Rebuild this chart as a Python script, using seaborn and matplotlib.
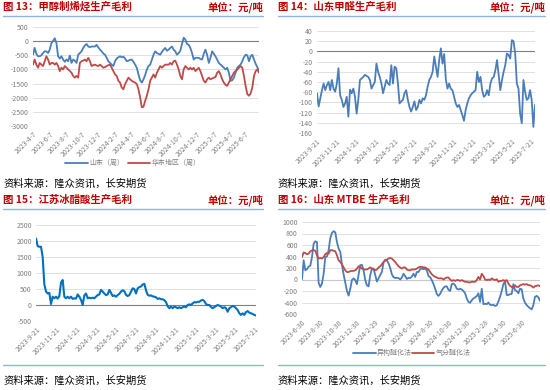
import numpy as np
import pandas as pd
import seaborn as sns
from matplotlib import pyplot as plt
from matplotlib.lines import Line2D

# ---- 图13 甲醇制烯烃生产毛利（周，元/吨）
mto_labels = ['2023-4-7', '2023-6-7', '2023-8-7', '2023-10-7', '2023-12-7', '2024-2-7', '2024-4-7',
              '2024-6-7', '2024-8-7', '2024-10-7', '2024-12-7', '2025-2-7', '2025-4-7', '2025-6-7']
mto_shandong = [-480, -240, -450, -535, -535, -500, -420, -360, -360, -420, -300, -70, 10, 100, -70,
                -535, -615, -535, -650, -730, -650, -710, -510, -770, -650, -690, -770, -480, -420, -360,
                -240, -150, -100, -190, -210, -190, -190, -190, -130, -220, -300, -360, -440, -480, -590,
                -710, -770, -830, -880, -710, -615, -570, -535, -570, -550, -615, -710, -690, -660, -650,
                -730, -830, -940, -1175, -1385, -1465, -1350, -1200, -1000, -880, -830, -650, -480, -360, -420,
                -450, -480, -380, -300, -240, -340, -300, -240, -190, -300, -360, -480, -420, -340, -100,
                120, 60, -100, -130, -240, -420, -650, -590, -590, -590, -630, -650, -450, -300, -480,
                -770, -590, -360, -450, -535, -650, -770, -830, -880, -940, -1000, -940, -1115, -1400, -1385,
                -1290, -1115, -940, -880, -830, -710, -570, -480, -500, -710, -535, -480, -650, -800, -920,
                -1060]
mto_huadong = [-830, -650, -830, -940, -770, -830, -880, -710, -535, -650, -830, -770, -770, -830, -770,
               -880, -1060, -940, -1000, -880, -940, -1000, -1060, -1115, -1230, -1290, -1230, -1290, -770, -710,
               -690, -650, -710, -590, -710, -880, -850, -830, -860, -880, -830, -880, -940, -920, -880,
               -850, -830, -940, -1060, -1175, -1230, -1400, -1465, -1640, -1700, -1520, -1400, -1290, -1350, -1400,
               -1440, -1465, -1520, -1700, -1990, -2340, -2320, -2110, -1930, -1700, -1400, -1290, -1175, -1290, -1115,
               -1000, -880, -940, -880, -830, -830, -830, -770, -830, -710, -690, -830, -1000, -1230, -1350,
               -1000, -880, -940, -1000, -940, -1000, -940, -1060, -1000, -940, -1060, -1230, -1400, -1465, -1350,
               -1290, -1350, -1320, -1290, -1270, -1115, -1060, -1175, -1350, -1465, -1545, -1580, -1465, -1350, -1230,
               -1115, -1060, -1000, -940, -880, -940, -1230, -1580, -1870, -1930, -1850, -1640, -1230, -1060, -1000,
               -1115]

# ---- 图14 山东甲醛生产毛利
hcho_labels = ['2023-9-21', '2023-11-21', '2024-1-21', '2024-3-21', '2024-5-21', '2024-7-21',
               '2024-9-21', '2024-11-21', '2025-1-21', '2025-3-21', '2025-5-21', '2025-7-21']
hcho_margin = [-82, -108, -92, -76, -63, -76, -66, -60, -76, -56, -73, -79, -63, -33, -86, -95, -109, -102,
               -89, -128, -75, -82, -73, -89, -122, -95, -56, -53, -50, -46, -48, -50, -56, -73, -66, -60,
               -24, -40, -50, -63, -82, -69, -56, -63, -66, -27, -63, -30, -33, -63, -102, -98, -95, -82,
               -76, -95, -109, -118, -109, -98, -115, -109, -95, -102, -92, -95, -86, -69, -56, -50, -40, -10,
               -30, -50, -17, 6, -24, -5, -55, -73, -63, -73, -76, -89, -102, -109, -105, -115, -125, -136,
               -115, -102, -92, -86, -82, -79, -76, -40, -60, -50, -76, -89, -86, -76, -86, -63, -53, -50,
               -37, -17, -46, -76, -56, -40, -27, -4, -7, -14, 22, 20, -4, -63, -73, -122, -141, -56,
               -79, -95, -92, -76, -95, -148, -105]

# ---- 图15 江苏冰醋酸生产毛利
acetic_labels = hcho_labels
acetic_margin = [2080, 1840, 1820, 1820, 1500, 650, 420, 360, 380, 30, 260, 210, 260, 200, 280, 700, 780,
                 260, 210, 260, 210, 260, 190, 210, 200, 330, 260, 160, 0, 300, 360, 210, 230, 210, 230,
                 210, 260, 310, 330, 470, 420, 360, 310, 330, 470, 380, 280, 300, 260, 310, 350, 420, 460,
                 430, 320, 280, 310, 420, 520, 500, 360, 520, 560, 580, 640, 660, 460, 320, 290, 300, 270,
                 260, 240, 190, 210, 180, 180, 150, 90, -40, -100, -50, -100, -50, -70, -100, -70, -100, -70,
                 -50, -70, 0, 20, 0, 50, 90, 80, 100, 100, 140, 160, 120, 30, 0, 0, -60, -100, -70, -30,
                 0, -20, -50, -100, -70, -100, -210, -100, -70, -30, -50, -100, -160, -260, -310, -260, -310,
                 -220, -190, -240, -260, -280, -310, -330]

# ---- 图16 山东MTBE生产毛利
mtbe_labels = ['2023-6-30', '2023-8-30', '2023-10-30', '2023-12-30', '2024-2-29', '2024-4-30', '2024-6-30',
               '2024-8-30', '2024-10-30', '2024-12-30', '2025-2-28', '2025-4-30', '2025-6-30']
mtbe_isomer = [0, 335, 160, 180, 225, 240, 390, 620, 665, 650, -60, -130, -70, 100, 390, 400, 510, 720,
               810, 840, 820, 650, 540, 480, 260, 90, -60, -200, -280, -160, -10, 20, -10, -80, 80, 250,
               255, 160, -10, -100, -120, 75, 190, 190, 75, -35, 20, 80, 130, 300, 345, 335, 280, 200,
               90, 40, 25, 30, 25, 0, 35, 100, 60, 10, 30, 25, 50, 100, 45, 130, 130, 180, 190, 180,
               190, 160, 60, 40, -10, -80, -160, -250, -285, -250, -190, -145, -120, -120, -180, -200, -80, -70,
               -100, -160, -175, -160, -175, -200, -240, -330, -390, -405, -360, -330, -310, -290, -240, -390,
               -160, -430, -420, -430, -400, -440, -445, -440, -460, -450, -380, -300, -200, -80, -30, -270,
               -270, -255, -250, -80, -185, -200, -240, -160, -170, -330, -405, -445, -475, -500, -520, -445,
               -300, -285, -310, -370]
mtbe_gas = [390, 470, 460, 440, 450, 490, 505, 510, 500, 420, 365, 375, 365, 390, 440, 460, 450, 510,
            510, 500, 490, 420, 335, 305, 265, 210, 160, 130, 130, 145, 150, 150, 160, 190, 230, 210,
            190, 175, 175, 175, 190, 210, 190, 175, 160, 175, 210, 230, 265, 305, 325, 345, 365, 375,
            365, 335, 305, 265, 230, 210, 190, 210, 210, 175, 160, 160, 175, 175, 175, 190, 210, 220,
            220, 210, 210, 190, 175, 130, 90, 65, 45, 35, 20, 20, 20, 0, 20, 35, 35, 0, -25, -10,
            -25, -10, -10, -25, -10, -25, -40, -40, -50, -50, -40, -40, -40, -10, 45, 0, 100, 60,
            0, -10, 0, -10, 20, 0, -10, 5, -40, -25, -25, -10, -25, -10, -70, -110, -130, -140,
            -100, -130, -130, -100, -90, -80, -90, -80, -100, -100, -115, -140, -115, -110, -100, -115]

RED_TITLE = '#C00000'
BLUE_RULE = '#8DB4E2'
W, H = 550, 390

sns.set_theme(style='white')
plt.rcParams['font.family'] = ['Noto Sans CJK SC', 'DejaVu Sans']
plt.rcParams['axes.unicode_minus'] = False


def fx(px):
    return px / W


def fy(py):
    return 1 - py / H


def panel_axes(x0, y0, x1, y1):
    return fig.add_axes([fx(x0), fy(y1), fx(x1) - fx(x0), fy(y0) - fy(y1)])


def style_axis(ax, yticks, xpos, xlabels, n, zero_color='#8C8C8C'):
    ax.set_ylim(yticks[0], yticks[-1])
    ax.set_yticks(yticks)
    ax.set_yticklabels([str(v) for v in yticks])
    ax.set_xlim(0, n - 1)
    ax.set_xticks(xpos)
    ax.set_xticklabels(xlabels, rotation=45, ha='right', rotation_mode='anchor')
    ax.tick_params(axis='both', labelsize=5, colors='#7F7F7F', length=0, pad=3)
    ax.grid(axis='y', color='#DCDCDC', linewidth=0.6)
    ax.set_axisbelow(True)
    ax.axhline(0, color=zero_color, linewidth=0.8, zorder=1)
    for s in ax.spines.values():
        s.set_visible(False)
    ax.set_xlabel('')
    ax.set_ylabel('')


def panel_header(x0, x1, y, title):
    fig.text(fx(x0), fy(y), title, color=RED_TITLE, fontsize=7.5, fontweight='bold', va='center', ha='left')
    fig.text(fx(x1), fy(y), '单位：元/吨', color=RED_TITLE, fontsize=7.5, fontweight='bold', va='center', ha='right')
    fig.add_artist(Line2D([fx(x0), fx(x1)], [fy(y + 9), fy(y + 9)], color=BLUE_RULE, linewidth=1.0))


def source_note(x0, y):
    fig.text(fx(x0), fy(y), '资料来源：隆众资讯，长安期货', color='#000000', fontsize=7.4, va='center', ha='left')


fig = plt.figure(figsize=(5.5, 3.9), dpi=100)

# 图13
ax1 = panel_axes(33, 27, 259, 126)
df1 = pd.DataFrame({'idx': np.arange(len(mto_shandong)), 'sd': mto_shandong, 'hd': mto_huadong})
sns.lineplot(data=df1, x='idx', y='sd', ax=ax1, color='#4A7EBB', linewidth=1.3, label='山东（周）')
sns.lineplot(data=df1, x='idx', y='hd', ax=ax1, color='#BE4B48', linewidth=1.3, label='华东地区（周）')
style_axis(ax1, list(range(-3000, 501, 500)), np.round(np.arange(len(mto_labels)) * 9.8),
           mto_labels, len(mto_shandong), zero_color='#7F7F7F')
ax1.legend(loc='center', bbox_to_anchor=(fx(133), fy(163)), bbox_transform=fig.transFigure, ncol=2,
           frameon=False, fontsize=5, handlelength=3.2, columnspacing=0.6, handletextpad=0.2,
           labelcolor='#7F7F7F')
panel_header(3, 263, 7, '图 13：甲醇制烯烃生产毛利')
source_note(3, 184)

# 图14
ax2 = panel_axes(317, 31, 535, 133)
df2 = pd.DataFrame({'idx': np.arange(len(hcho_margin)), 'v': hcho_margin})
sns.lineplot(data=df2, x='idx', y='v', ax=ax2, color='#4A7EBB', linewidth=1.3, legend=False)
style_axis(ax2, list(range(-160, 41, 20)), np.arange(len(hcho_labels)) * 11.8,
           hcho_labels, len(hcho_margin), zero_color='#7F7F7F')
panel_header(278, 545, 7, '图 14：山东甲醛生产毛利')
source_note(278, 184)

# 图15
ax3 = panel_axes(36, 225, 256, 321)
df3 = pd.DataFrame({'idx': np.arange(len(acetic_margin)), 'v': acetic_margin})
sns.lineplot(data=df3, x='idx', y='v', ax=ax3, color='#0070C0', linewidth=1.5, legend=False)
style_axis(ax3, list(range(-500, 2501, 500)), 0.6 + np.arange(len(acetic_labels)) * 11.9,
           acetic_labels, len(acetic_margin), zero_color='#7F7F7F')
panel_header(3, 263, 200, '图 15：江苏冰醋酸生产毛利')
fig.add_artist(Line2D([fx(3), fx(263)], [fy(365), fy(365)], color=BLUE_RULE, linewidth=1.0))
source_note(3, 381)

# 图16
ax4 = panel_axes(302, 222, 540, 314)
df4 = pd.DataFrame({'idx': np.arange(len(mtbe_isomer)), 'iso': mtbe_isomer, 'gas': mtbe_gas})
sns.lineplot(data=df4, x='idx', y='iso', ax=ax4, color='#4A7EBB', linewidth=1.3, label='异构醚化法')
sns.lineplot(data=df4, x='idx', y='gas', ax=ax4, color='#BE4B48', linewidth=1.3, label='气分醚化法')
style_axis(ax4, list(range(-600, 1001, 200)), np.arange(len(mtbe_labels)) * 11,
           mtbe_labels, len(mtbe_isomer), zero_color='#C8C8C8')
ax4.legend(loc='center', bbox_to_anchor=(fx(412), fy(353)), bbox_transform=fig.transFigure, ncol=2,
           frameon=False, fontsize=5, handlelength=3.2, columnspacing=0.0, handletextpad=0.2,
           labelcolor='#7F7F7F')
panel_header(278, 545, 200, '图 16：山东 MTBE 生产毛利')
fig.add_artist(Line2D([fx(278), fx(545)], [fy(365), fy(365)], color=BLUE_RULE, linewidth=1.0))
source_note(278, 381)

fig.savefig('out.png', dpi=100)
